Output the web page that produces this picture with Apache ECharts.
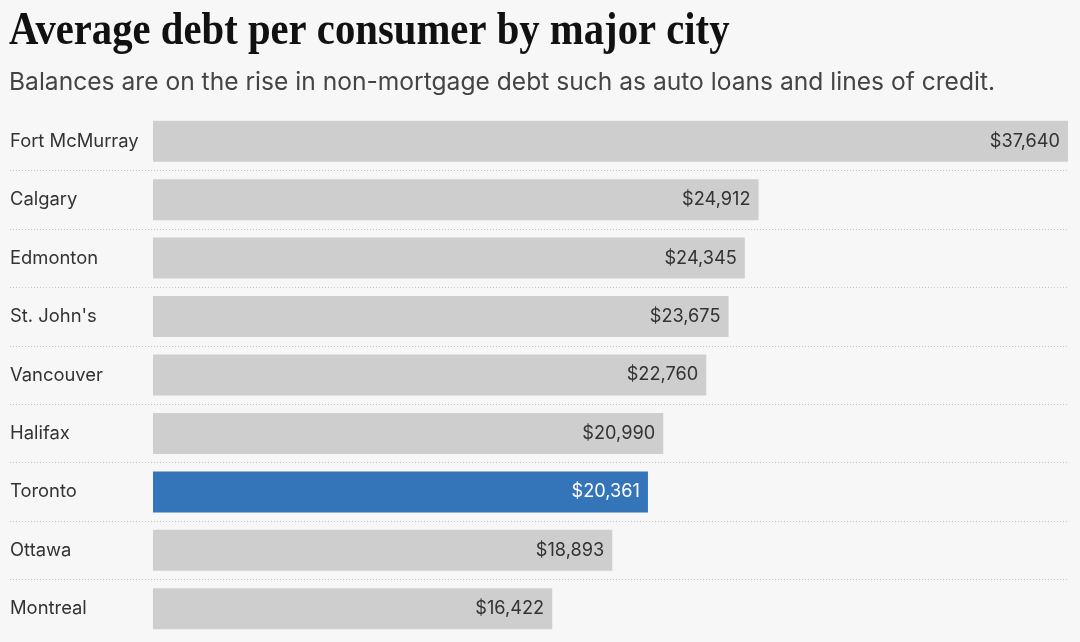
<!DOCTYPE html>
<html>
<head>
<meta charset="utf-8">
<script src="https://cdn.jsdelivr.net/npm/echarts@6/dist/echarts.min.js"></script>
<style>
html,body{margin:0;padding:0;background:#f7f7f7;}
#chart{width:1080px;height:642px;}
</style>
</head>
<body>
<div id="chart"></div>
<script>
const cities = ["Fort McMurray","Calgary","Edmonton","St. John's","Vancouver","Halifax","Toronto","Ottawa","Montreal"];
const values = [37640, 24912, 24345, 23675, 22760, 20990, 20361, 18893, 16422];
const highlightCity = "Toronto";
const titleText = "Average debt per consumer by major city";
const subtitleText = "Balances are on the rise in non-mortgage debt such as auto loans and lines of credit.";

const GRAY = "#cecece", BLUE = "#3474b8";
const chart = echarts.init(document.getElementById('chart'));
const fmt = v => "$" + v.toLocaleString('en-US');

chart.setOption({
  backgroundColor: "#f7f7f7",
  animation: false,
  graphic: [{
    type: "text",
    x: 9, y: 9,
    scaleX: 0.885,
    style: {text: titleText, font: 'bold 46px "Liberation Serif"', fill: "#111", align: "left", verticalAlign: "top"}
  }],
  title: [{
    text: subtitleText,
    left: 4, top: 65,
    textStyle: {fontFamily: "Inter", fontWeight: "normal", fontSize: 24.6, color: "#444"}
  }],
  grid: [
    {left: 153, right: 12, top: 112, bottom: 4, containLabel: false},
    {left: 10, right: 12, top: 112, bottom: 4, containLabel: false}
  ],
  xAxis: [
    {type: "value", gridIndex: 0, min: 0, max: 37640, show: false},
    {type: "value", gridIndex: 1, min: 0, max: 1, show: false}
  ],
  yAxis: [
    {type: "category", gridIndex: 0, data: cities, inverse: true,
     axisLine: {show: false}, axisTick: {show: false}, splitLine: {show: false},
     axisLabel: {align: "left", margin: 143, fontFamily: "Inter", fontSize: 18.4, color: "#333"}},
    {type: "category", gridIndex: 1, data: cities, inverse: true,
     axisLine: {show: false}, axisTick: {show: false}, axisLabel: {show: false},
     splitLine: {show: true, showMinLine: false, showMaxLine: false,
       lineStyle: {type: [1, 2], color: "#c4c4c4", width: 1}}}
  ],
  series: [{
    type: "bar",
    xAxisIndex: 0, yAxisIndex: 0,
    barWidth: 41,
    data: values.map((v, i) => ({
      value: v,
      itemStyle: {color: cities[i] === highlightCity ? BLUE : GRAY},
      label: {color: cities[i] === highlightCity ? "#fff" : "#333"}
    })),
    label: {show: true, position: "insideRight", distance: 8, formatter: p => fmt(p.value),
      fontFamily: "Inter", fontSize: 18.2},
    silent: true
  }]
});
</script>
</body>
</html>
